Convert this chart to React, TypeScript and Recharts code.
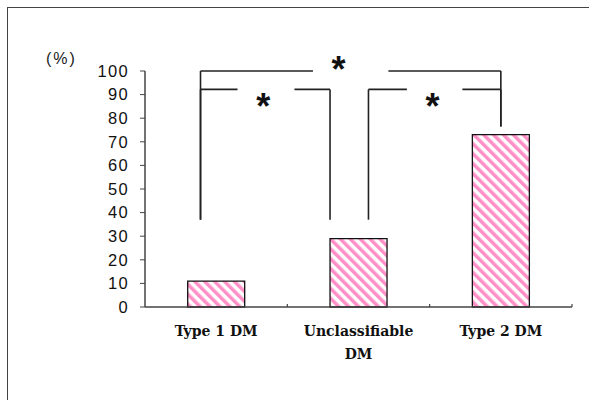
import { BarChart, Bar, XAxis, YAxis, ReferenceLine, ReferenceDot, Text } from "recharts";

// categories and values (%)
const categories = ["Type 1 DM", "Unclassifiable\nDM", "Type 2 DM"];
const values = [11, 29, 73];
const yTicks = [0, 10, 20, 30, 40, 50, 60, 70, 80, 90, 100];

// significance brackets, x in category units (0..3), y in %
const bracketX1 = [0.39, 0.39, 1.57];
const bracketX2 = [2.5, 1.3, 2.5];
const bracketY = [100, 92.2, 92.2];
const bracketGapFrom = [1.18, 0.65, 1.84];
const bracketGapTo = [1.71, 1.05, 2.23];
const bracketLeftEnd = [37, 37, 37];
const bracketRightEnd = [76.5, 37, 76.5];
const starX = [1.36, 0.83, 2.02];
const starY = [103.8, 88, 88];
const categoryBounds = [1, 2, 3];

const data = categories.map((name, i) => ({ name, value: values[i] }));

const LINE = "#222";

function CategoryTick(props: any) {
  const { x, y, payload } = props;
  const lines = String(payload.value).split("\n");
  return (
    <g>
      {lines.map((l, i) => (
        <Text
          key={i}
          x={x}
          y={y + 17 + i * 23}
          textAnchor="middle"
          verticalAnchor="start"
          fontFamily="'DejaVu Serif', serif"
          fontWeight="bold"
          fontSize={14}
          fill="#111"
        >
          {l}
        </Text>
      ))}
    </g>
  );
}

function Star(props: any) {
  const { cx, cy } = props;
  return (
    <text
      x={cx}
      y={cy + 20}
      textAnchor="middle"
      fontFamily="'Liberation Sans', Arial, sans-serif"
      fontWeight="bold"
      fontSize={36}
      fill="#111"
    >
      *
    </text>
  );
}

export default function App() {
  const segs: { x1: number; y1: number; x2: number; y2: number }[] = [];
  bracketY.forEach((y, i) => {
    segs.push({ x1: bracketX1[i], y1: y, x2: bracketGapFrom[i], y2: y });
    segs.push({ x1: bracketGapTo[i], y1: y, x2: bracketX2[i], y2: y });
    segs.push({ x1: bracketX1[i], y1: y, x2: bracketX1[i], y2: bracketLeftEnd[i] });
    segs.push({ x1: bracketX2[i], y1: y, x2: bracketX2[i], y2: bracketRightEnd[i] });
  });

  return (
    <div style={{ position: "absolute", left: 0, top: 0, width: 589, height: 400, background: "#fff" }}>
      <div
        style={{
          position: "absolute",
          left: 7,
          top: 7,
          right: 0,
          bottom: 0,
          borderTop: "1px solid #444",
          borderLeft: "1px solid #444",
        }}
      />
      <div
        style={{
          position: "absolute",
          left: 46,
          top: 50,
          fontFamily: "'Liberation Sans', Arial, sans-serif",
          fontSize: 16,
          letterSpacing: 2,
          color: "#222",
        }}
      >
        (%)
      </div>
      <div style={{ position: "absolute", left: 0, top: 0 }}>
        <BarChart
          width={589}
          height={400}
          data={data}
          margin={{ top: 71, right: 17, bottom: 43, left: 85 }}
          barCategoryGap="30%"
        >
          <XAxis
            dataKey="name"
            tickLine={false}
            tickSize={0}
            tick={<CategoryTick />}
            axisLine={{ stroke: "#444", strokeWidth: 1.5 }}
            height={50}
            interval={0}
          />
          <XAxis
            xAxisId="n"
            type="number"
            dataKey="pos"
            domain={[0, 3]}
            allowDataOverflow
            hide
          />
          <YAxis
            domain={[0, 100]}
            ticks={yTicks}
            interval={0}
            width={60}
            tickSize={5}
            tickMargin={11}
            tickLine={{ stroke: "#444" }}
            axisLine={{ stroke: "#444", strokeWidth: 1.5 }}
            tick={{
              fill: "#111",
              fontSize: 16.5,
              letterSpacing: 1.3,
              fontFamily: "'Liberation Sans', Arial, sans-serif",
            }}
          />
          <defs>
            <pattern
              id="hatch"
              patternUnits="userSpaceOnUse"
              width={7}
              height={7}
              patternTransform="rotate(-45)"
            >
              <rect width={7} height={7} fill="#fff" />
              <rect width={3.5} height={7} fill="#ff8fc6" />
            </pattern>
          </defs>
          <Bar dataKey="value" fill="url(#hatch)" stroke="#111" strokeWidth={1.3} isAnimationActive={false} />
          {categoryBounds.map((b) => (
            <ReferenceLine
              key={"b" + b}
              xAxisId="n"
              segment={[{ x: b, y: 0 }, { x: b, y: 1.3 }]}
              stroke="#444"
              strokeWidth={1.2}
            />
          ))}
          {segs.map((s, i) => (
            <ReferenceLine
              key={"s" + i}
              xAxisId="n"
              segment={[{ x: s.x1, y: s.y1 }, { x: s.x2, y: s.y2 }]}
              stroke={LINE}
              strokeWidth={1.6}
              ifOverflow="visible"
            />
          ))}
          {starX.map((x, i) => (
            <ReferenceDot
              key={"st" + i}
              xAxisId="n"
              x={x}
              y={starY[i]}
              r={0}
              ifOverflow="visible"
              shape={<Star />}
            />
          ))}
        </BarChart>
      </div>
    </div>
  );
}
